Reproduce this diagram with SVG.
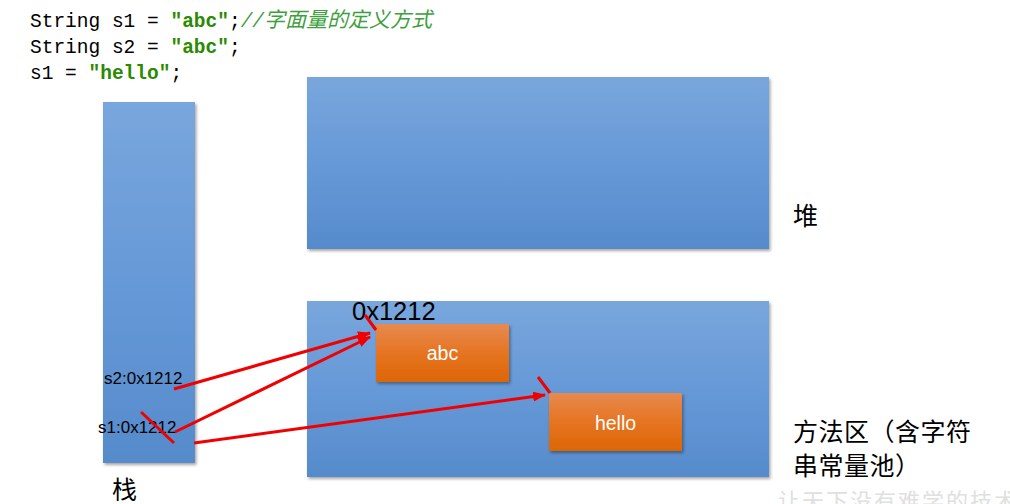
<svg xmlns="http://www.w3.org/2000/svg" width="1010" height="504" viewBox="0 0 1010 504">
<style>
.code{font-family:"Liberation Mono","DejaVu Sans Mono","Noto Sans CJK SC",monospace;font-size:19.5px;fill:#000}
.str{fill:#2a8a00;font-weight:bold}
.cmt{fill:#3f9f3f;font-style:italic}
.cmtc{font-family:"Noto Sans CJK SC",sans-serif;font-size:21px}
.lbl{font-family:"Liberation Sans","Noto Sans CJK SC",sans-serif;fill:#000}
.cjk{font-family:"Noto Sans CJK SC","Liberation Sans",sans-serif;fill:#000;font-size:25px}
.box{fill:url(#blue);filter:url(#sh)}
.obox{fill:url(#orange);filter:url(#sh)}
.btxt{font-family:"Liberation Sans",sans-serif;font-size:19.5px;fill:#fff;text-anchor:middle}
.arr{stroke:#f00000;stroke-width:3;fill:none}
</style>
<defs>
<linearGradient id="blue" x1="0" y1="0" x2="0" y2="1">
<stop offset="0" stop-color="#79a6dc"/>
<stop offset="0.5" stop-color="#6699d8"/>
<stop offset="1" stop-color="#568bcb"/>
</linearGradient>
<linearGradient id="orange" x1="0" y1="0" x2="0" y2="1">
<stop offset="0" stop-color="#e78a50"/>
<stop offset="0.5" stop-color="#e67422"/>
<stop offset="1" stop-color="#dc6604"/>
</linearGradient>
<filter id="sh" x="-5%" y="-5%" width="115%" height="120%">
<feDropShadow dx="1.5" dy="2" stdDeviation="1.5" flood-color="#000" flood-opacity="0.35"/>
</filter>
<marker id="ah" markerUnits="userSpaceOnUse" markerWidth="14" markerHeight="10" refX="12" refY="5" orient="auto">
<path d="M0,0 L13,5 L0,10 Z" fill="#f00000"/>
</marker>
</defs>

<g id="code">
<text class="code" x="30" y="27">String s1 = <tspan class="str">"abc"</tspan>;<tspan class="cmt">//<tspan class="cmtc">字面量的定义方式</tspan></tspan></text>
<text class="code" x="30" y="53">String s2 = <tspan class="str">"abc"</tspan>;</text>
<text class="code" x="30" y="79">s1 = <tspan class="str">"hello"</tspan>;</text>
</g>

<g id="stack">
<rect class="box" x="103" y="102" width="92" height="361"/>
<text class="cjk" x="112" y="499">栈</text>
</g>

<g id="heap">
<rect class="box" x="307" y="77" width="462" height="172"/>
<text class="cjk" x="793" y="225">堆</text>
</g>

<g id="method-area">
<rect class="box" x="307" y="301" width="462" height="176"/>
<text class="cjk" x="793" y="441" letter-spacing="0.5">方法区（含字符</text>
<text class="cjk" x="793" y="475" letter-spacing="0.5">串常量池）</text>
</g>

<g id="abc">
<rect class="obox" x="376" y="324" width="133" height="58"/>
<text class="btxt" x="442.5" y="360">abc</text>
</g>

<g id="hello">
<rect class="obox" x="549" y="393" width="133" height="58"/>
<text class="btxt" x="615.5" y="430">hello</text>
</g>

<g id="labels">
<text class="lbl" x="352" y="320" font-size="25.5">0x1212</text>
<text class="lbl" x="104" y="384" font-size="17">s2:0x1212</text>
<text class="lbl" x="98" y="433" font-size="17">s1:0x1212</text>
</g>

<g id="connectors">
<line class="arr" x1="174" y1="389" x2="370" y2="333" marker-end="url(#ah)"/>
<line class="arr" x1="175" y1="432" x2="370" y2="337" marker-end="url(#ah)"/>
<line class="arr" x1="194" y1="443" x2="545" y2="395" marker-end="url(#ah)"/>
<line class="arr" x1="141" y1="412" x2="174" y2="443"/>
<line class="arr" x1="365" y1="315" x2="376" y2="330"/>
<line class="arr" x1="538" y1="377" x2="550" y2="393"/>
</g>

<g id="watermark">
<text x="778" y="509" font-family="Noto Sans CJK SC,sans-serif" font-size="22" fill="#e0e0e0" letter-spacing="2">让天下没有难学的技术</text>
</g>
</svg>
